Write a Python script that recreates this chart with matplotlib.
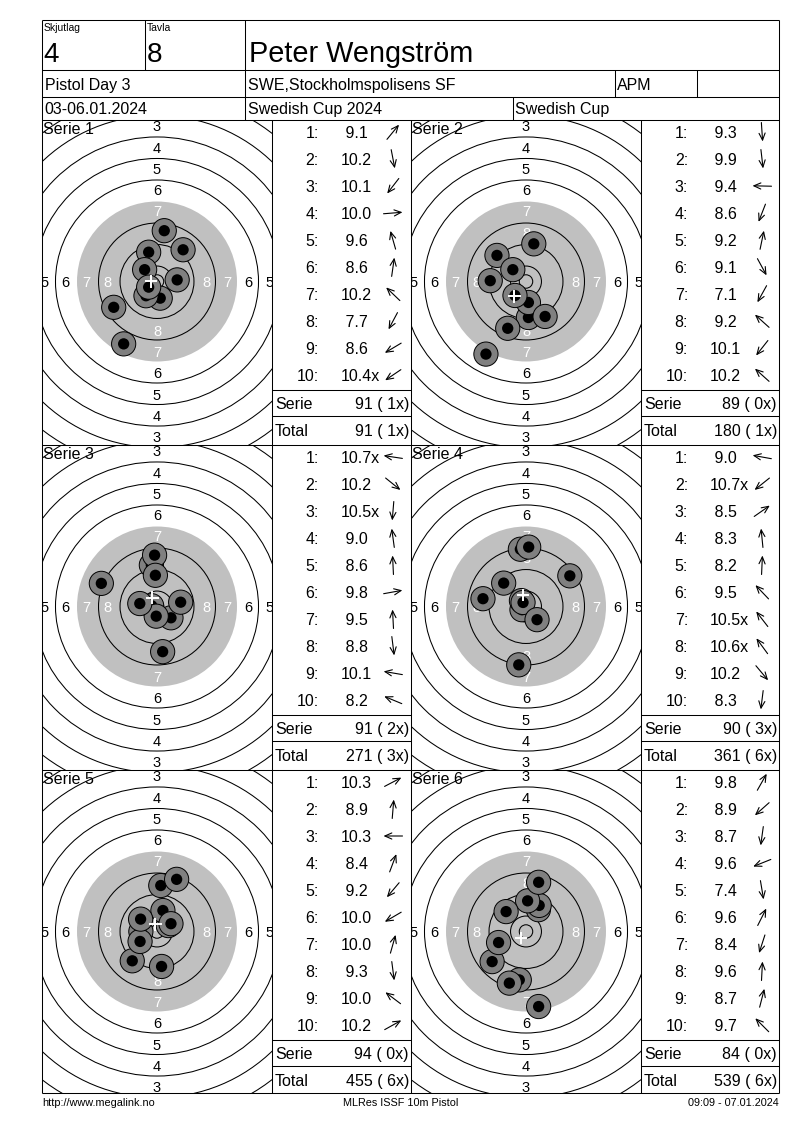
import numpy as np
import matplotlib.pyplot as plt
from matplotlib.patches import Circle

plt.rcParams['font.family'] = ['Liberation Sans', 'DejaVu Sans']

# header texts
squad = "4"
lane = "8"
shooter = "Peter Wengström"
event = "Pistol Day 3"
club = "SWE,Stockholmspolisens SF"
klass = "APM"
dates = "03-06.01.2024"
match = "Swedish Cup 2024"
cup = "Swedish Cup"
footer = ["http://www.megalink.no", "MLRes ISSF 10m Pistol", "09:09 - 07.01.2024"]

series_names = ["Serie 1", "Serie 2", "Serie 3", "Serie 4", "Serie 5", "Serie 6"]

# decimal scores, inner-ten flags, shot positions in mm (x right, y up)
s1_score = [9.1, 10.2, 10.1, 10.0, 9.6, 8.6, 10.2, 7.7, 8.6, 10.4]
s1_inner = [0, 0, 0, 0, 0, 0, 0, 0, 0, 1]
s1_x = [9.7, 1.2, -4.1, 7.5, -3.1, 2.7, -4.6, -12.4, -16.1, -3.1]
s1_y = [11.8, -6.2, -5.3, 0.6, 10.9, 18.9, 4.4, -23.2, -9.6, -2.1]

s2_score = [9.3, 9.9, 9.4, 8.6, 9.2, 9.1, 7.1, 9.2, 10.1, 10.2]
s2_inner = [0, 0, 0, 0, 0, 0, 0, 0, 0, 0]
s2_x = [0.9, 0.9, -13.3, -6.8, 2.9, 7.1, -14.9, -10.8, -4.1, -4.9]
s2_y = [-13.4, -7.8, 0.3, -17.4, 14.0, -13.0, -27.0, 9.7, -5.2, 4.4]

s3_score = [10.7, 10.2, 10.5, 9.0, 8.6, 9.8, 9.5, 8.8, 10.1, 8.2]
s3_inner = [1, 0, 1, 0, 0, 0, 0, 0, 0, 0]
s3_x = [-2.0, 5.2, -0.3, -2.1, -0.9, 8.8, -0.6, 2.1, -6.4, -20.7]
s3_y = [0.3, -4.2, -3.6, 15.4, 19.1, 1.6, 11.6, -16.8, 1.1, 8.6]

s4_score = [9.0, 10.7, 8.5, 8.3, 8.2, 9.5, 10.5, 10.6, 10.2, 8.3]
s4_inner = [0, 1, 0, 0, 0, 0, 1, 1, 0, 0]
s4_x = [-16.0, -1.5, 16.3, -2.1, 1.0, -8.3, -1.7, -1.1, 4.1, -2.7]
s4_y = [2.9, -1.2, 11.4, 21.3, 22.1, 8.7, 2.2, 1.5, -4.9, -21.7]

s5_score = [10.3, 8.9, 10.3, 8.4, 9.2, 10.0, 10.0, 9.3, 10.0, 10.2]
s5_inner = [0, 0, 0, 0, 0, 0, 0, 0, 0, 0]
s5_x = [4.2, 1.4, -6.0, 7.3, -9.2, -6.3, 2.2, 1.7, -6.1, 5.2]
s5_y = [2.2, 17.1, 0.0, 19.4, -10.9, -3.7, 7.8, -13.0, 4.6, 2.9]

s6_score = [9.8, 8.9, 8.7, 9.6, 7.4, 9.6, 8.4, 9.6, 8.7, 9.7]
s6_inner = [0, 0, 0, 0, 0, 0, 0, 0, 0, 0]
s6_x = [4.6, -12.6, -2.5, -10.2, 4.7, 4.9, -6.2, 0.6, 4.7, -7.4]
s6_y = [8.1, -11.2, -18.0, -4.1, -27.9, 9.7, -19.2, 11.4, 18.3, 7.4]

series = [
    (s1_score, s1_inner, s1_x, s1_y),
    (s2_score, s2_inner, s2_x, s2_y),
    (s3_score, s3_inner, s3_x, s3_y),
    (s4_score, s4_inner, s4_x, s4_y),
    (s5_score, s5_inner, s5_x, s5_y),
    (s6_score, s6_inner, s6_x, s6_y),
]

W, H = 800, 1130
PX_MM = 2.689          # pixels per mm on the target drawing
L, R = 42, 779
col_x = [42, 272, 411, 641, 779]
row_y = [120, 445, 770, 1093]

fig = plt.figure(figsize=(W / 100, H / 100), dpi=100)
fig.patch.set_facecolor('white')

page = fig.add_axes([0, 0, 1, 1], zorder=3)
page.set_xlim(0, W)
page.set_ylim(H, 0)
page.axis('off')
page.patch.set_alpha(0)

LW = 0.75


def hline(y, x0, x1):
    page.plot([x0, x1], [y, y], color='black', lw=LW, solid_capstyle='butt')


def vline(x, y0, y1):
    page.plot([x, x], [y0, y1], color='black', lw=LW, solid_capstyle='butt')


def txt(x, yc, s, size, ha='left', **kw):
    # yc is the centre of the cap height, in pixels
    page.text(x, yc + 0.716 * size * 100 / 72 / 2, s, fontsize=size, ha=ha,
              va='baseline', color=kw.pop('color', 'black'), **kw)


# ---- header boxes
for y in [20, 70, 97, 120]:
    hline(y, L, R)
vline(L, 20, row_y[-1])
vline(R, 20, row_y[-1])
vline(145, 20, 70)
vline(245, 20, 70)
vline(245, 70, 97)
vline(615, 70, 97)
vline(697, 70, 97)
vline(245, 97, 120)
vline(513, 97, 120)

txt(44, 27, "Skjutlag", 7.5)
txt(147, 27, "Tavla", 7.5)
txt(43, 52, squad, 20)
txt(147, 52, lane, 20)
txt(249, 52, shooter, 20.8)
txt(45, 84.5, event, 11.5)
txt(248, 84.5, club, 11.5)
txt(617, 84.5, klass, 11.5)
txt(44, 108.5, dates, 11.5)
txt(248, 108.5, match, 11.5)
txt(515, 108.5, cup, 11.5)

# ---- panel grid
for y in row_y[1:]:
    hline(y, L, R)
for x in col_x[1:4]:
    vline(x, row_y[0], row_y[-1])

ring_r = {k: 5.75 + 8 * (10 - k) for k in range(1, 11)}
RING_FS = 10.5
half_cap = 0.716 * RING_FS * 100 / 72 / 2 / PX_MM

for i, (score, inner, sx, sy) in enumerate(series):
    r, c = divmod(i, 2)
    x0, x1 = col_x[2 * c], col_x[2 * c + 1]
    y0, y1 = row_y[r], row_y[r + 1]
    cx, cy = (x0 + x1) / 2, y0 + 161.5

    ax = fig.add_axes([x0 / W, 1 - y1 / H, (x1 - x0) / W, (y1 - y0) / H], zorder=1)
    xl = (-(cx - x0) / PX_MM, (x1 - cx) / PX_MM)
    yl = (-(y1 - cy) / PX_MM, (cy - y0) / PX_MM)
    ax.set_xlim(*xl)
    ax.set_ylim(*yl)
    ax.axis('off')

    # target face
    ax.add_patch(Circle((0, 0), ring_r[7], fc='#c0c0c0', ec='none', zorder=1))
    for k in range(1, 11):
        if k == 7:
            continue
        ax.add_patch(Circle((0, 0), ring_r[k], fc='none', ec='black', lw=LW, zorder=2))
    ax.add_patch(Circle((0, 0), 2.5, fc='none', ec='black', lw=LW, zorder=2))
    for k in range(3, 9):
        rl = 2.5 + 7.9 * (10 - k)
        col = 'white' if k >= 7 else 'black'
        for px, py in [(0, rl), (0, -rl), (rl, 0), (-rl, 0)]:
            if not (xl[0] - 1 < px < xl[1] + 1 and yl[0] - 1 < py < yl[1] + 1):
                continue
            ax.text(px, py - half_cap, str(k), fontsize=RING_FS, color=col,
                    ha='center', va='baseline', clip_on=True, zorder=3)

    # shots
    for j in range(len(sx)):
        ax.add_patch(Circle((sx[j], sy[j]), 4.5, fc='#808080', ec='black',
                            lw=0.7, zorder=4 + 2 * j))
        ax.add_patch(Circle((sx[j], sy[j]), 2.1, fc='black', ec='none',
                            zorder=5 + 2 * j))
    mx, my = np.mean(sx), np.mean(sy)
    ax.plot([mx - 1.9, mx + 1.9], [my, my], color='white', lw=1.4, zorder=40)
    ax.plot([mx, mx], [my - 1.9, my + 1.9], color='white', lw=1.4, zorder=40)

    txt(x0 + 1, y0 + 8, series_names[i], 11.5)

    # score table
    t0, t1 = col_x[2 * c + 1], col_x[2 * c + 2]
    for j in range(len(score)):
        yc = y0 + 12 + 27 * j
        txt(t0 + 47, yc, f"{j + 1}:", 11.5, ha='right')
        label = f"{score[j]:4.1f}" + ("x" if inner[j] else "")
        txt(t0 + 69, yc, label, 11.5)
        ang = np.arctan2(sy[j], sx[j])
        ax_c, ay_c = t0 + 121, yc
        dx, dy = 9.5 * np.cos(ang), -9.5 * np.sin(ang)
        page.annotate('', xy=(ax_c + dx, ay_c + dy), xytext=(ax_c - dx, ay_c - dy),
                      arrowprops=dict(arrowstyle='->,head_length=0.5,head_width=0.22',
                                      lw=0.8, color='black', shrinkA=0, shrinkB=0))
    hline(y0 + 270, t0, t1)
    hline(y0 + 296, t0, t1)

    ser = sum(int(v) for v in score)
    ser_x = sum(inner)
    tot = sum(sum(int(v) for v in s[0]) for s in series[:i + 1])
    tot_x = sum(sum(s[1]) for s in series[:i + 1])
    txt(t0 + 3, y0 + 283, "Serie", 11.5)
    txt(t1 - 2, y0 + 283, f"{ser} ({ser_x:2d}x)", 11.5, ha='right')
    txt(t0 + 3, y0 + 310, "Total", 11.5)
    txt(t1 - 2, y0 + 310, f"{tot} ({tot_x:2d}x)", 11.5, ha='right')

# footer
txt(42, 1102, footer[0], 7.8)
txt(401, 1102, footer[1], 7.8, ha='center')
txt(R, 1102, footer[2], 7.8, ha='right')

fig.savefig('out.png', dpi=100, facecolor='white')
